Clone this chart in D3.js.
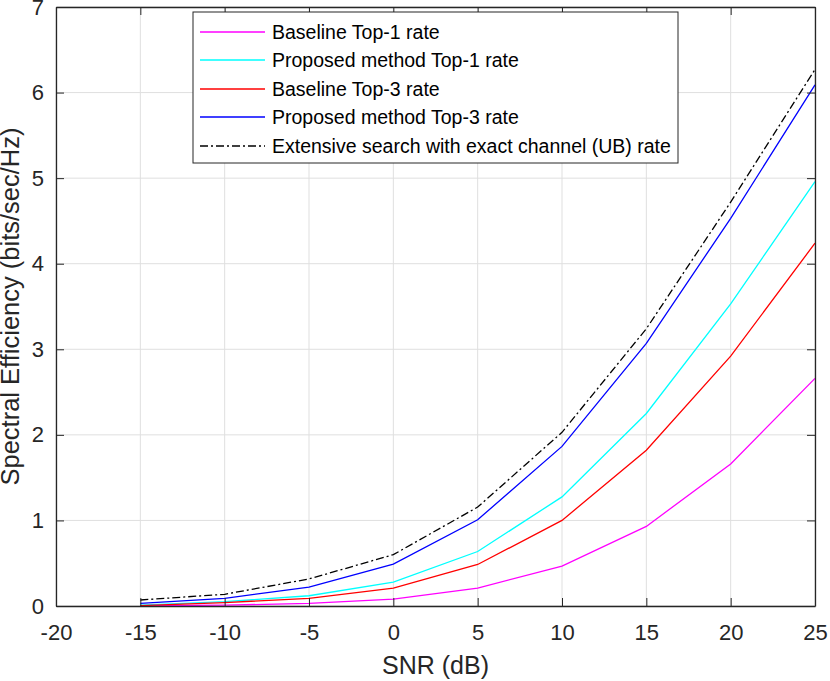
<!DOCTYPE html>
<html><head><meta charset="utf-8">
<script src="https://cdn.jsdelivr.net/npm/d3@7"></script>
<style>body{margin:0;background:#fff;} text{font-family:"Liberation Sans",Arial,sans-serif;}</style>
</head><body>
<svg id="chart" width="830" height="681"></svg>
<script>
const snr = [-15, -10, -5, 0, 5, 10, 15, 20, 25];
const baselineTop1 = [0.003, 0.01, 0.03, 0.08, 0.21, 0.466, 0.93, 1.66, 2.66];
const proposedTop1 = [0.01, 0.05, 0.12, 0.28, 0.637, 1.275, 2.25, 3.53, 4.96];
const baselineTop3 = [0.005, 0.04, 0.09, 0.21, 0.485, 1.0, 1.82, 2.92, 4.24];
const proposedTop3 = [0.03, 0.09, 0.22, 0.49, 1.008, 1.865, 3.07, 4.53, 6.09];
const upperBound = [0.07, 0.137, 0.316, 0.60, 1.156, 2.03, 3.24, 4.72, 6.27];
const xTicks = [-20, -15, -10, -5, 0, 5, 10, 15, 20, 25];
const yTicks = [0, 1, 2, 3, 4, 5, 6, 7];
const seriesNames = ["Baseline Top-1 rate", "Proposed method Top-1 rate", "Baseline Top-3 rate", "Proposed method Top-3 rate", "Extensive search with exact channel (UB) rate"];
const seriesColors = ["#ff00ff", "#00ffff", "#ff0000", "#0000ff", "#000000"];
const seriesDash = [null, null, null, null, "8,3,2,3"];
const seriesValues = [baselineTop1, proposedTop1, baselineTop3, proposedTop3, upperBound];

const svg = d3.select("#chart");
const L = 56, R = 815, T = 7, B = 606;
const x = d3.scaleLinear().domain([-20, 25]).range([L, R]);
const y = d3.scaleLinear().domain([0, 7]).range([B, T]);
const axisColor = "#262626";

// grid
svg.append("g").selectAll("line").data(xTicks).join("line")
  .attr("x1", d => x(d)).attr("x2", d => x(d)).attr("y1", T).attr("y2", B)
  .attr("stroke", "#dfdfdf").attr("stroke-width", 1);
svg.append("g").selectAll("line").data(yTicks).join("line")
  .attr("x1", L).attr("x2", R).attr("y1", d => y(d)).attr("y2", d => y(d))
  .attr("stroke", "#dfdfdf").attr("stroke-width", 1);

// lines
const line = d3.line().x((d, i) => x(snr[i])).y(d => y(d));
seriesValues.forEach((vals, k) => {
  svg.append("path").datum(vals).attr("d", line)
    .attr("fill", "none").attr("stroke", seriesColors[k]).attr("stroke-width", 1.3)
    .attr("stroke-dasharray", seriesDash[k]);
});

// axes
const tl = 8;
const fmt = d => String(d);
const xAxis = d3.axisBottom(x).tickValues(xTicks).tickFormat(fmt).tickSizeInner(-tl).tickSizeOuter(0).tickPadding(18);
const gx = svg.append("g").attr("transform", `translate(0,${B})`).call(xAxis);
const yAxis = d3.axisLeft(y).tickValues(yTicks).tickFormat(fmt).tickSizeInner(-tl).tickSizeOuter(0).tickPadding(12);
const gy = svg.append("g").attr("transform", `translate(${L},0)`).call(yAxis);
const xTop = d3.axisTop(x).tickValues(xTicks).tickSizeInner(-tl).tickSizeOuter(0).tickFormat("");
svg.append("g").attr("transform", `translate(0,${T})`).call(xTop);
const yRight = d3.axisRight(y).tickValues(yTicks).tickSizeInner(-tl).tickSizeOuter(0).tickFormat("");
svg.append("g").attr("transform", `translate(${R},0)`).call(yRight);
svg.selectAll(".domain").attr("stroke", axisColor).attr("stroke-width", 1.3);
svg.selectAll(".tick line").attr("stroke", axisColor).attr("stroke-width", 1);
svg.selectAll(".tick text").attr("fill", axisColor).style("font-size", "22px");

// axis labels
svg.append("text").attr("x", (L + R) / 2).attr("y", 674).attr("text-anchor", "middle")
  .attr("fill", axisColor).style("font-size", "25px").text("SNR (dB)");
svg.append("text").attr("transform", `translate(19,${(T + B) / 2}) rotate(-90)`)
  .attr("text-anchor", "middle").attr("fill", axisColor).style("font-size", "25.5px")
  .text("Spectral Efficiency (bits/sec/Hz)");

// legend
const lg = svg.append("g");
lg.append("rect").attr("x", 193).attr("y", 12).attr("width", 485).attr("height", 151)
  .attr("fill", "#fff").attr("stroke", axisColor).attr("stroke-width", 1);
const rowY = [32, 60, 89, 117, 146];
seriesNames.forEach((name, k) => {
  lg.append("line").attr("x1", 200).attr("x2", 265).attr("y1", rowY[k]).attr("y2", rowY[k])
    .attr("stroke", seriesColors[k]).attr("stroke-width", 1.3).attr("stroke-dasharray", seriesDash[k]);
  lg.append("text").attr("x", 272).attr("y", rowY[k]).attr("dy", "0.35em")
    .attr("fill", "#000").style("font-size", "19.5px").text(name);
});
</script>
</body></html>
